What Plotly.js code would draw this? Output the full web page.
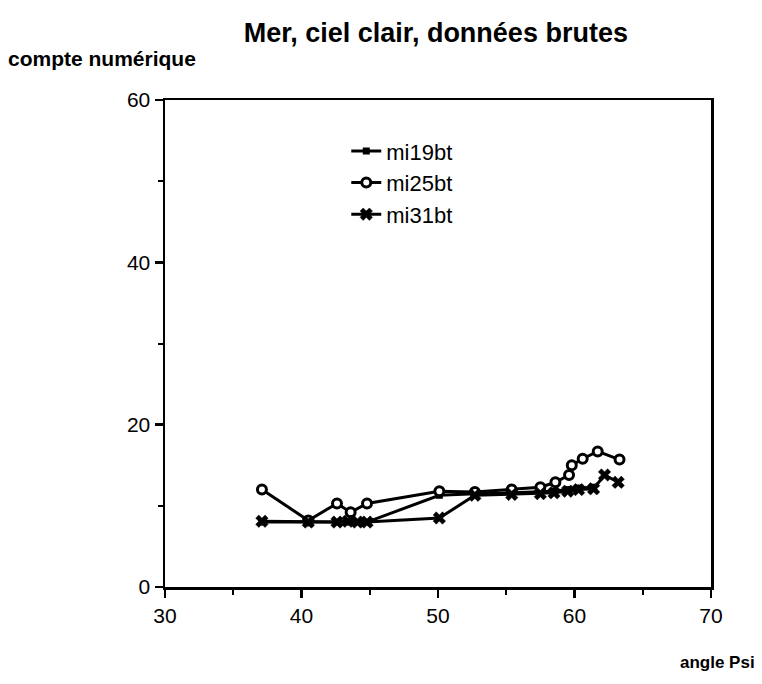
<!DOCTYPE html>
<html>
<head>
<meta charset="utf-8">
<script src="https://cdn.plot.ly/plotly-3.0.1.min.js"></script>
<style>html,body{margin:0;padding:0;background:#fff;}#chart{width:762px;height:684px;}</style>
</head>
<body>
<div id="chart"></div>
<script>
const seriesNames = ["mi19bt", "mi25bt", "mi31bt"];

const mi19bt_x = [37.1, 40.5, 42.6, 43.4, 44.8, 50.1, 52.7, 55.4, 57.5, 58.5, 59.5, 60.3, 61.4];
const mi19bt_y = [8.0, 8.0, 8.0, 8.0, 8.0, 11.3, 11.5, 11.6, 11.7, 11.8, 12.0, 12.2, 12.3];

const mi25bt_x = [37.1, 40.5, 42.6, 43.6, 44.8, 50.1, 52.7, 55.4, 57.5, 58.6, 59.6, 59.8, 60.6, 61.7, 63.3];
const mi25bt_y = [12.0, 8.2, 10.3, 9.2, 10.3, 11.8, 11.7, 12.0, 12.3, 12.9, 13.8, 15.0, 15.8, 16.7, 15.7];

const mi31bt_x = [37.1, 40.5, 42.6, 43.4, 44.1, 44.8, 50.1, 52.7, 55.4, 57.5, 58.5, 59.5, 60.3, 61.4, 62.2, 63.2];
const mi31bt_y = [8.1, 8.0, 8.0, 8.1, 8.0, 8.0, 8.5, 11.3, 11.4, 11.5, 11.6, 11.8, 12.0, 12.1, 13.8, 12.9];

const xTicks = [30, 40, 50, 60, 70];
const yTicks = [0, 20, 40, 60];

const FONT = "Liberation Sans, Arial, Helvetica, sans-serif";

const traces = [
  {x: mi19bt_x, y: mi19bt_y, name: seriesNames[0], mode: "lines+markers",
   line: {color: "#000", width: 3},
   marker: {symbol: "square", size: 7, color: "#000"}},
  {x: mi25bt_x, y: mi25bt_y, name: seriesNames[1], mode: "lines+markers",
   line: {color: "#000", width: 3},
   marker: {symbol: "circle", size: 9, color: "#fff", line: {color: "#000", width: 3}}},
  {x: mi31bt_x, y: mi31bt_y, name: seriesNames[2], mode: "lines+markers",
   line: {color: "#000", width: 3},
   marker: {symbol: "x", size: 11, color: "#000", line: {color: "#000", width: 0.5}}}
];

const layout = {
  width: 762, height: 684,
  paper_bgcolor: "#fff", plot_bgcolor: "#fff",
  margin: {l: 165, r: 51, t: 100, b: 97},
  showlegend: true,
  title: {text: "<b>Mer, ciel clair, données brutes</b>", x: 0.572, xanchor: "center", y: 0.953, yanchor: "middle",
          font: {family: FONT, size: 27, color: "#000"}},
  xaxis: {
    range: [30, 70], tickvals: xTicks, ticktext: xTicks.map(String),
    showgrid: false, zeroline: false,
    showline: true, linecolor: "#000", linewidth: 2.5, mirror: true,
    ticks: "outside", ticklen: 8, tickwidth: 2.5, tickcolor: "#000",
    minor: {dtick: 5, tick0: 30, ticks: "outside", ticklen: 5, tickwidth: 2, tickcolor: "#000", showgrid: false},
    tickfont: {family: FONT, size: 21, color: "#000"}
  },
  yaxis: {
    range: [0, 60], tickvals: yTicks, ticktext: yTicks.map(String),
    showgrid: false, zeroline: false,
    showline: true, linecolor: "#000", linewidth: 2.5, mirror: true,
    ticks: "outside", ticklen: 8, tickwidth: 2.5, tickcolor: "#000",
    minor: {dtick: 10, tick0: 0, ticks: "outside", ticklen: 5, tickwidth: 2, tickcolor: "#000", showgrid: false},
    tickfont: {family: FONT, size: 21, color: "#000"}
  },
  legend: {x: 0.332, y: 0.938, xanchor: "left", yanchor: "top",
           bgcolor: "rgba(0,0,0,0)", borderwidth: 0,
           font: {family: FONT, size: 22, color: "#000"}, tracegroupgap: 0, itemwidth: 30},
  annotations: [
    {text: "<b>compte numérique</b>", xref: "paper", yref: "paper", x: -0.291, y: 1.085,
     xanchor: "left", yanchor: "middle", showarrow: false, font: {family: FONT, size: 21, color: "#000"}},
    {text: "<b>angle Psi</b>", xref: "paper", yref: "paper", x: 1.085, y: -0.155,
     xanchor: "right", yanchor: "middle", showarrow: false, font: {family: FONT, size: 17, color: "#000"}}
  ]
};

Plotly.newPlot("chart", traces, layout, {displayModeBar: false, staticPlot: true});
</script>
</body>
</html>
